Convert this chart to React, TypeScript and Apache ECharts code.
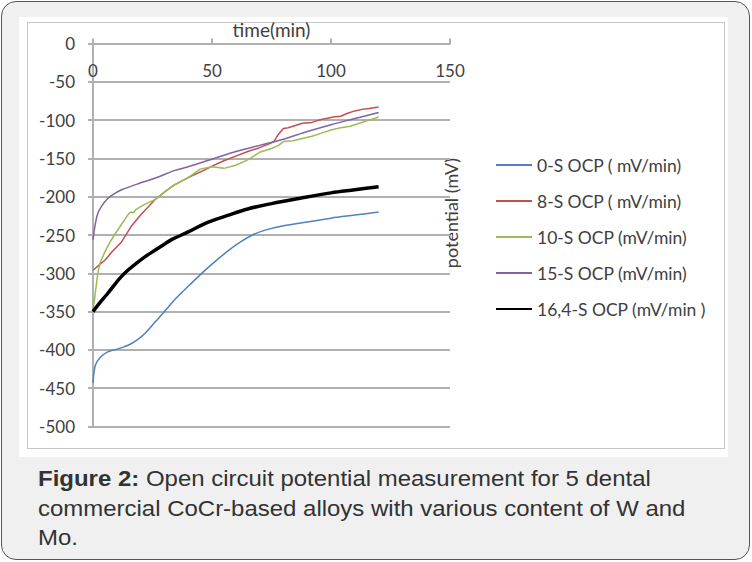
import React, { useEffect, useRef } from "react";
import * as echarts from "echarts";

const xTicks = [0, 50, 100, 150];
const yTicks = [0, -50, -100, -150, -200, -250, -300, -350, -400, -450, -500];

const names = [
  "0-S OCP ( mV/min)",
  "8-S OCP ( mV/min)",
  "10-S OCP (mV/min)",
  "15-S OCP (mV/min)",
  "16,4-S OCP (mV/min )",
];
const colors = ["#4f81bd", "#c0504d", "#9bbb59", "#8064a2", "#000000"];

const s0T = [0, 1, 3, 6, 10, 13, 16, 19, 22, 26, 30, 33, 36, 40, 45, 50, 57, 62, 67, 72, 80, 90, 100, 110, 120];
const s0V = [-443, -420, -410, -403, -399, -396, -392, -386, -378, -364, -350, -339, -329, -317, -302, -288, -270, -259, -250, -244, -238, -233, -228, -224, -220];

const s8T = [0, 3, 5, 8, 12, 16, 20, 26, 30, 34, 40, 47, 50, 55, 60, 65, 70, 74, 76, 78, 80, 82, 85, 88, 92, 95, 98, 101, 104, 107, 110, 113, 116, 120];
const s8V = [-296, -288, -283, -272, -259, -239, -224, -204, -194, -185, -175, -165, -160, -153, -147, -141, -136, -131, -128, -118, -111, -110, -107, -104, -103, -100, -98, -96, -95, -91, -88, -86, -85, -83];

const s10T = [0, 1, 2, 3, 5, 7, 9, 12, 15, 16, 17, 18, 20, 23, 26, 30, 34, 40, 45, 50, 55, 60, 65, 70, 75, 78, 80, 84, 88, 92, 96, 100, 104, 108, 112, 116, 120];
const s10V = [-350, -325, -300, -286, -272, -260, -250, -236, -222, -220, -221, -217, -213, -208, -204, -194, -185, -175, -164, -161, -163, -159, -152, -142, -137, -133, -128, -127, -124, -121, -117, -113, -110, -108, -104, -100, -96];

const s15T = [0, 1, 2, 3.5, 6, 9, 12, 19, 26, 34, 40, 50, 60, 70, 80, 90, 100, 110, 120];
const s15V = [-256, -235, -222, -213, -203, -196, -191, -183, -176, -166, -161, -151, -141, -133, -125, -115, -106, -98, -90];

const s164T = [0, 3, 6, 9, 12, 15, 19, 23, 26, 30, 33, 40, 47, 57, 65, 75, 87, 100, 110, 120];
const s164V = [-350, -338, -327, -315, -304, -295, -285, -276, -270, -262, -256, -246, -235, -224, -216, -209, -202, -195, -191, -187];

const seriesT = [s0T, s8T, s10T, s15T, s164T];
const seriesV = [s0V, s8V, s10V, s15V, s164V];
const widths = [1.5, 1.5, 1.5, 1.5, 3.5];
const smooths = [true, false, false, true, true];

const FONT = "Lato";
const TXT = "#404040";
const GRID = "#b0b0b0";

export default function App() {
  const ref = useRef<HTMLDivElement>(null);
  useEffect(() => {
    document.body.style.margin = "0";
    const chart = echarts.init(ref.current!, null, { renderer: "svg" });
    chart.setOption({
      animation: false,
      backgroundColor: "transparent",
      grid: { left: 93, top: 43.5, width: 357, height: 383, containLabel: false },
      xAxis: {
        type: "value",
        position: "top",
        min: xTicks[0],
        max: xTicks[xTicks.length - 1],
        interval: 50,
        name: "time(min)",
        nameLocation: "middle",
        nameGap: 1,
        nameTextStyle: { color: TXT, fontFamily: FONT, fontSize: 19 },
        axisLine: { show: true, lineStyle: { color: GRID, width: 2 } },
        axisTick: { show: true, inside: false, length: 5, lineStyle: { color: GRID, width: 2 } },
        axisLabel: { inside: true, margin: 18, color: TXT, fontFamily: FONT, fontSize: 17 },
        splitLine: { show: false },
      },
      yAxis: {
        type: "value",
        min: yTicks[yTicks.length - 1],
        max: yTicks[0],
        interval: 50,
        axisLine: { show: true, lineStyle: { color: GRID, width: 2 } },
        axisTick: { show: true, inside: false, length: 5, lineStyle: { color: GRID, width: 2 } },
        axisLabel: { margin: 18, color: TXT, fontFamily: FONT, fontSize: 17 },
        splitLine: { show: true, lineStyle: { color: GRID, width: 2 } },
      },
      legend: {
        orient: "vertical",
        left: 490,
        top: 151,
        itemWidth: 36,
        itemHeight: 14,
        itemGap: 18,
        itemStyle: { opacity: 0 },
        textStyle: { color: TXT, fontFamily: FONT, fontSize: 17.5 },
        data: names,
      },
      series: names.map((n, i) => ({
        name: n,
        type: "line",
        data: seriesT[i].map((t, j) => [t, seriesV[i][j]]),
        symbol: "none",
        smooth: smooths[i] ? 0.35 : false,
        lineStyle: { color: colors[i], width: widths[i] },
        itemStyle: { color: colors[i] },
        z: i === 4 ? 5 : 3,
      })),
      graphic: [
        {
          type: "text",
          x: 451,
          y: 213,
          rotation: Math.PI / 2,
          style: {
            text: "potential (mV)",
            fill: TXT,
            font: `18px ${FONT}`,
            align: "center",
            verticalAlign: "middle",
          },
        },
        {
          type: "text",
          x: 38,
          y: 464,
          scaleX: 1.09,
          style: {
            text: "{b|Figure 2:} Open circuit potential measurement for 5 dental\ncommercial CoCr-based alloys with various content of W and\nMo.",
            fill: "#333333",
            fontFamily: "Liberation Sans",
            fontSize: 22,
            lineHeight: 29.5,
            rich: {
              b: { fontWeight: "bold", fontFamily: "Liberation Sans", fontSize: 22, fill: "#333333", lineHeight: 29.5 },
            },
          },
        },
      ],
    });
    return () => chart.dispose();
  }, []);
  return (
    <div style={{ position: "relative", width: 752, height: 562, overflow: "hidden" }}>
      <div
        style={{
          position: "absolute",
          left: 1,
          top: 1,
          width: 747,
          height: 557,
          border: "1.5px solid #555",
          borderRadius: 15,
          background: "#eff0ef",
        }}
      />
      <div style={{ position: "absolute", left: 19, top: 17, width: 709, height: 440, background: "#ffffff" }} />
      <div
        style={{
          position: "absolute",
          left: 27,
          top: 22,
          width: 696,
          height: 425,
          border: "1.5px solid #c8c8c8",
        }}
      />
      <div ref={ref} style={{ position: "absolute", left: 0, top: 0, width: 752, height: 562 }} />
    </div>
  );
}
